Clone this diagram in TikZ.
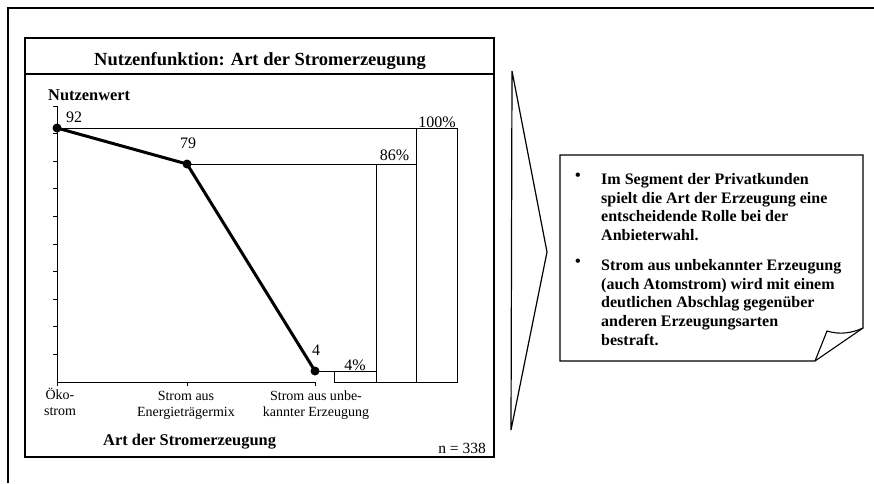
\documentclass[tikz,border=0pt]{standalone}
\usepackage{fontspec}
\setmainfont{Liberation Serif}
\begin{document}
\begin{tikzpicture}[x=1pt,y=-1pt,
  frame/.style={line width=1.2pt},
  axisline/.style={line width=1pt},
  refline/.style={line width=0.8pt},
  dataline/.style={line width=3pt},
  dot/.style={circle,fill=black,inner sep=0pt,minimum size=9pt},
  num/.style={font=\fontsize{16}{18}\selectfont,inner sep=0pt},
  cat/.style={font=\fontsize{14}{16}\selectfont,align=center,inner sep=0pt,anchor=north},
  boldlab/.style={font=\fontsize{16.4}{18}\selectfont\bfseries,inner sep=0pt},
  notetext/.style={font=\fontsize{16}{18.7}\selectfont\bfseries,align=left,inner sep=0pt,anchor=north west}]
\useasboundingbox (0,0) rectangle (874,483);
\fill[white] (0,0) rectangle (874,483);
% outer frame
\draw[frame] (8,483) -- (8,8) -- (874,8);
% chart box
\draw[frame] (25,38) rectangle (494,457);
\draw[frame] (25,74) -- (494,74);
\node[font=\fontsize{18.5}{20}\selectfont\bfseries,inner sep=0pt,anchor=base] (title) at (260,65) {Nutzenfunktion: Art der Stromerzeugung};
\node[boldlab,anchor=base west] (ylab) at (48,100) {Nutzenwert};
% axes
\draw[axisline] (53,106) -- (57,106) -- (57,382) -- (315,382);
\foreach \v in {1,...,9} {\draw[axisline] (53,382-27.6*\v) -- (57,382-27.6*\v);}
\draw[axisline] (57,382) -- (57,386);
\draw[axisline] (187,382) -- (187,386);
\draw[axisline] (315,382) -- (315,386);
% points
\coordinate (p1) at (57,128);
\coordinate (p2) at (187,164);
\coordinate (p3) at (315,371);
% bars
\draw[refline] (p1) -- (416,128);
\draw[refline] (p2) -- (376,164);
\draw[refline] (p3) -- (334,371);
\draw[axisline] (334,371) rectangle (376,382);
\draw[axisline] (376,164) rectangle (416,382);
\draw[axisline] (416,128) rectangle (457,382);
\draw[dataline] (p1) -- (p2) -- (p3);
\node[dot] (d1) at (p1) {};
\node[dot] (d2) at (p2) {};
\node[dot] (d3) at (p3) {};
% value labels
\node[num,anchor=base west] (l92) at (66,122) {92};
\node[num,anchor=base] (l79) at (188,148) {79};
\node[num,anchor=base] (l4) at (316,355) {4};
\node[num,anchor=base] (l4p) at (355,370) {4\%};
\node[num,anchor=base] (l86) at (394.5,160) {86\%};
\node[num,anchor=base] (l100) at (437,127) {100\%};
% category labels
\node[cat] (c1) at (60,388.3) {Öko-\\strom};
\node[cat] (c2) at (186,391) {Strom aus\\Energieträgermix};
\node[cat] (c3) at (316,391) {Strom aus unbe-\\kannter Erzeugung};
\node[boldlab,anchor=base west] (xlab) at (103,445) {Art der Stromerzeugung};
\node[num,font=\fontsize{15.5}{18}\selectfont,anchor=base east] (n) at (486,453) {n = 338};
% chevron
\draw[line width=1.2pt] (512,71) -- (547,252) -- (511,430) -- cycle;
% note
\draw[line width=1.1pt] (560,155) -- (863,155) -- (863,328) -- (815,361) -- (560,361) -- cycle;
\draw[line width=1.1pt] (815,361) -- (827,331) .. controls (840,335) and (852,333) .. (863,328);
\node[notetext] (b1) at (575,173) {•};
\node[notetext] (t1) at (601,173) {Im Segment der Privatkunden\\spielt die Art der Erzeugung eine\\entscheidende Rolle bei der\\Anbieterwahl.};
\node[notetext] (b2) at (575,259) {•};
\node[notetext] (t2) at (601,259) {Strom aus unbekannter Erzeugung\\(auch Atomstrom) wird mit einem\\deutlichen Abschlag gegenüber\\anderen Erzeugungsarten\\bestraft.};
\end{tikzpicture}
\end{document}
